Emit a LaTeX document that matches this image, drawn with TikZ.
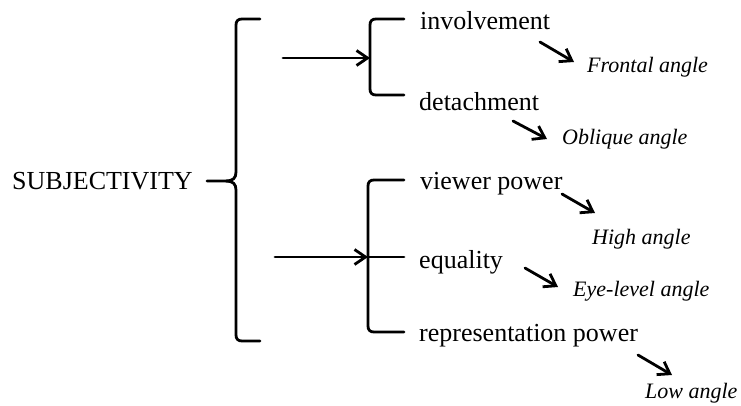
\documentclass[tikz,border=0pt]{standalone}
\usepackage{fontspec}
\setmainfont{Liberation Serif}
\usetikzlibrary{arrows.meta}
\begin{document}
\begin{tikzpicture}[x=1pt,y=-1pt,
  stroke/.style={line width=2.8pt,line cap=round,line join=round},
  arr/.style={stroke,-{Straight Barb[length=11pt,width=15pt,line width=2.8pt]}},
  item/.style={anchor=west,inner sep=0pt,font=\fontsize{26}{29}\selectfont},
  angle/.style={anchor=west,inner sep=0pt,font=\fontsize{22}{25}\selectfont\itshape}]
\useasboundingbox (0,0) rectangle (741,405);

% root label
\node[item] (subj) at (12,181) {SUBJECTIVITY};

% first-level brace
\draw[stroke] (260,19) -- (242,19) .. controls (238,19) and (236,21) .. (236,25)
  -- (236,172) .. controls (236,178) and (233,181) .. (226,181) -- (207,181);
\draw[stroke] (226,181) .. controls (233,181) and (236,184) .. (236,190)
  -- (236,335) .. controls (236,339) and (238,341) .. (242,341) -- (260,341);

% upper group bracket
\draw[stroke] (404,19) -- (376,19) .. controls (372,19) and (370,21) .. (370,25)
  -- (370,89) .. controls (370,93) and (372,95) .. (376,95) -- (404,95);
\coordinate (upin) at (370,58);
\coordinate (upout) at (283,58);
\draw[arr] (upout) -- (upin);

% lower group bracket
\draw[stroke] (404,180) -- (374,180) .. controls (370,180) and (368,182) .. (368,186)
  -- (368,326) .. controls (368,330) and (370,332) .. (374,332) -- (404,332);
\coordinate (lowin) at (368,257);
\coordinate (lowout) at (275,257);
\draw[stroke] (lowin) -- (404,257);
\draw[arr] (lowout) -- (lowin);

% options
\node[item] (inv) at (420,21) {involvement};
\node[item] (det) at (419,102) {detachment};
\node[item] (view) at (420,184) {viewer power};
\node[item] (eq) at (419,262) {equality};
\node[item] (rep) at (419,336) {representation power};

% camera angles
\node[angle] (front) at (587,67) {Frontal angle};
\node[angle] (obl) at (562,139) {Oblique angle};
\node[angle] (high) at (592,239) {High angle};
\node[angle] (eye) at (573,291) {Eye-level angle};
\node[angle] (low) at (645,393) {Low angle};

% links from options to angles
\coordinate (a1) at (540,42);  \coordinate (b1) at (574,62);
\coordinate (a2) at (513,121); \coordinate (b2) at (547,139);
\coordinate (a3) at (562,194); \coordinate (b3) at (595,213);
\coordinate (a4) at (525,268); \coordinate (b4) at (558,287);
\coordinate (a5) at (638,355); \coordinate (b5) at (672,375);
\foreach \i in {1,...,5} \draw[arr] (a\i) -- (b\i);
\end{tikzpicture}
\end{document}
